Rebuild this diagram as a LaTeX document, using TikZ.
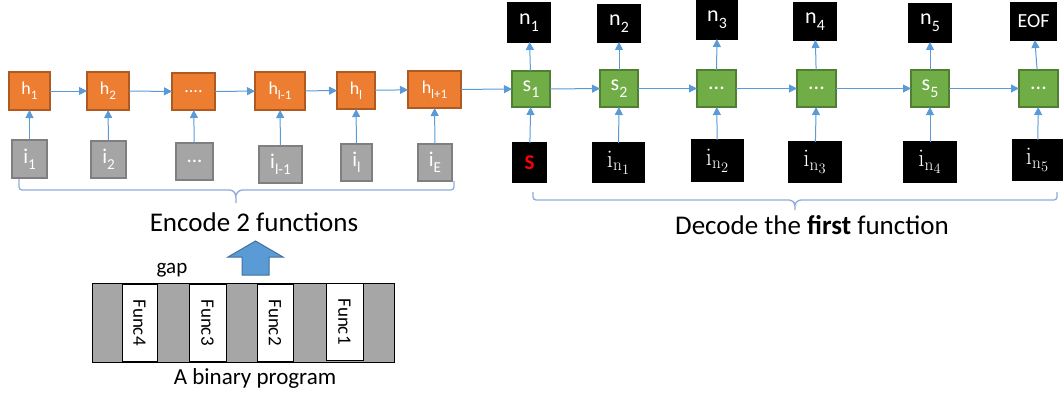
\documentclass[tikz,border=0pt]{standalone}
\usepackage[no-math]{fontspec}
\setmainfont{Carlito}
\usetikzlibrary{arrows.meta}

\definecolor{orangeF}{HTML}{ED7D31}
\definecolor{orangeD}{HTML}{AE5A21}
\definecolor{greyF}{HTML}{A5A5A5}
\definecolor{greyD}{HTML}{7F7F7F}
\definecolor{greenF}{HTML}{70AD47}
\definecolor{greenD}{HTML}{507E32}
\definecolor{linkc}{HTML}{5B9BD5}
\definecolor{bracec}{HTML}{8FAADC}
\definecolor{bigarrowD}{HTML}{41719C}
\definecolor{progF}{HTML}{A6A6A6}

\newcommand{\fs}[1]{\fontsize{#1}{#1}\selectfont}
% subscript in the style of a word processor: large and lowered
\newcommand{\lsub}[1]{\raisebox{-0.3em}{\scalebox{0.72}{#1}}}
\newcommand{\inp}[1]{$\mathrm{i}_{\mathrm{n}_{#1}}$}

\tikzset{
  wh/.style 2 args={minimum width=#1pt, minimum height=#2pt},
  cell/.style={inner sep=0pt, outer sep=0pt, line width=1.5pt, text=white},
  hcell/.style={cell, fill=orangeF, draw=orangeD, font=\fs{18}},
  icell/.style={cell, fill=greyF, draw=greyD, line width=2pt, font=\fs{21}},
  scell/.style={cell, fill=greenF, draw=greenD, font=\fs{22}},
  ncell/.style={cell, fill=black, draw=black, font=\fs{22}},
  incell/.style={cell, fill=black, draw=black, font=\fs{27}},
  link/.style={draw=linkc, line width=1pt, -{Triangle[length=8pt,width=8pt]}},
  bracket/.style={draw=bracec, line width=1.3pt, rounded corners=3pt},
  func/.style={draw=black, fill=white, line width=1pt, inner sep=0pt, rotate=-90, font=\fs{19}},
}

\begin{document}
\begin{tikzpicture}[x=1pt, y=-1pt]
\useasboundingbox (0,0) rectangle (1063,396);

% encoder hidden states
\node[hcell, wh={41}{38}] (h1)  at (29.5,91)   {h\lsub{1}};
\node[hcell, wh={42}{38}] (h2)  at (108,91)    {h\lsub{2}};
\node[hcell, wh={43}{37}] (hd)  at (193.5,91.5){....};
\node[hcell, wh={50}{38}] (hl1) at (280,91)    {h\lsub{l-1}};
\node[hcell, wh={38}{37}] (hl)  at (356,90.5)  {h\lsub{l}};
\node[hcell, wh={53}{37}] (hl2) at (434.5,89.5){h\lsub{l+1}};

% encoder inputs
\node[icell, wh={35}{38}] (i1)  at (29.5,159)  {i\lsub{1}};
\node[icell, wh={35}{37}] (i2)  at (108.5,159.5){i\lsub{2}};
\node[icell, wh={37}{37}] (id)  at (194.5,161.5){...};
\node[icell, wh={43}{37}] (il1) at (280.5,164.5){i\lsub{l-1}};
\node[icell, wh={31}{37}] (il)  at (356.5,162.5){i\lsub{l}};
\node[icell, wh={34}{37}] (iE)  at (435,162.5) {i\lsub{E}};

% decoder states
\node[scell, wh={38}{36}] (s1) at (531,89)     {s\lsub{1}};
\node[scell, wh={38}{37}] (s2) at (619,88.5)   {s\lsub{2}};
\node[scell, wh={39}{37}] (s3) at (716.5,88.5) {...};
\node[scell, wh={39}{37}] (s4) at (816.5,88.5) {...};
\node[scell, wh={38}{37}] (s5) at (930,88.5)   {s\lsub{5}};
\node[scell, wh={39}{37}] (s6) at (1038.5,88.5){...};

% decoder outputs
\node[ncell, wh={42}{39}] (n1) at (529,22.5)   {n\lsub{1}};
\node[ncell, wh={42}{37}] (n2) at (619,23.5)   {n\lsub{2}};
\node[ncell, wh={40}{38}] (n3) at (717,20)     {n\lsub{3}};
\node[ncell, wh={42}{37}] (n4) at (815,21.5)   {n\lsub{4}};
\node[ncell, wh={42}{38}] (n5) at (930,23)     {n\lsub{5}};
\node[ncell, wh={45}{37}, font=\fs{20}] (eof) at (1033.5,21.5) {EOF};

% decoder inputs
\node[incell, wh={33}{39}, text=red, font=\fs{21}\bfseries] (S) at (529.5,162.5) {S};
\node[incell, wh={51}{39}] (in1) at (618.5,162.5) {\inp{1}};
\node[incell, wh={51}{41}] (in2) at (717.5,160.5) {\inp{2}};
\node[incell, wh={52}{40}] (in3) at (815,162)     {\inp{3}};
\node[incell, wh={52}{40}] (in4) at (930,162)     {\inp{4}};
\node[incell, wh={49}{40}] (in5) at (1037.5,160)  {\inp{5}};

% recurrent links
\draw[link] (h1) -- (h2);
\draw[link] (h2) -- (hd);
\draw[link] (hd) -- (hl1);
\draw[link] (hl1) -- (hl);
\draw[link] (hl) -- (hl2);
\draw[link] (hl2) -- (s1);
\draw[link] (s1) -- (s2);
\draw[link] (s2) -- (s3);
\draw[link] (s3) -- (s4);
\draw[link] (s4) -- (s5);
\draw[link] (s5) -- (s6);

% input links
\foreach \a/\b in {i1/h1, i2/h2, id/hd, il1/hl1, il/hl, iE/hl2,
                   S/s1, in1/s2, in2/s3, in3/s4, in4/s5, in5/s6,
                   s1/n1, s2/n2, s3/n3, s4/n4, s5/n5, s6/eof}
  \draw[link] (\a) -- (\b);

% brackets
\draw[bracket] (19,179) -- (19,190) -- (233,190) -- (236,195) -- (236,203);
\draw[bracket] (236,195) -- (239,190) -- (454,190) -- (454,181);
\draw[bracket] (533,192) -- (533,200) -- (792,200) -- (795,204) -- (795,210);
\draw[bracket] (795,204) -- (798,200) -- (1057,200) -- (1057,192);

\node[anchor=base, font=\fs{27}] (enc) at (254,231) {Encode 2 functions};
\node[anchor=base, font=\fs{27}] (dec) at (812,234) {Decode the \textbf{first} function};

% block arrow
\draw[fill=linkc, draw=bigarrowD, line width=1pt]
  (242,275) -- (242,257) -- (228,257) -- (255.5,241) -- (283,257) -- (269,257) -- (269,275) -- cycle;

% binary program
\draw[fill=progF, draw=black, line width=1pt] (92,283) rectangle (394,362);
\node[func, minimum width=77pt, minimum height=35pt] (f4) at (139.5,322.5) {Func4};
\node[func, minimum width=77pt, minimum height=37pt] (f3) at (207.5,322.5) {Func3};
\node[func, minimum width=77pt, minimum height=36pt] (f2) at (275,322.5)   {Func2};
\node[func, minimum width=77pt, minimum height=37pt] (f1) at (344.5,321.5) {Func1};

\node[font=\fs{21}] (gap) at (172,270) {gap};
\node[font=\fs{23}] (bin) at (255,378) {A binary program};
\end{tikzpicture}
\end{document}
